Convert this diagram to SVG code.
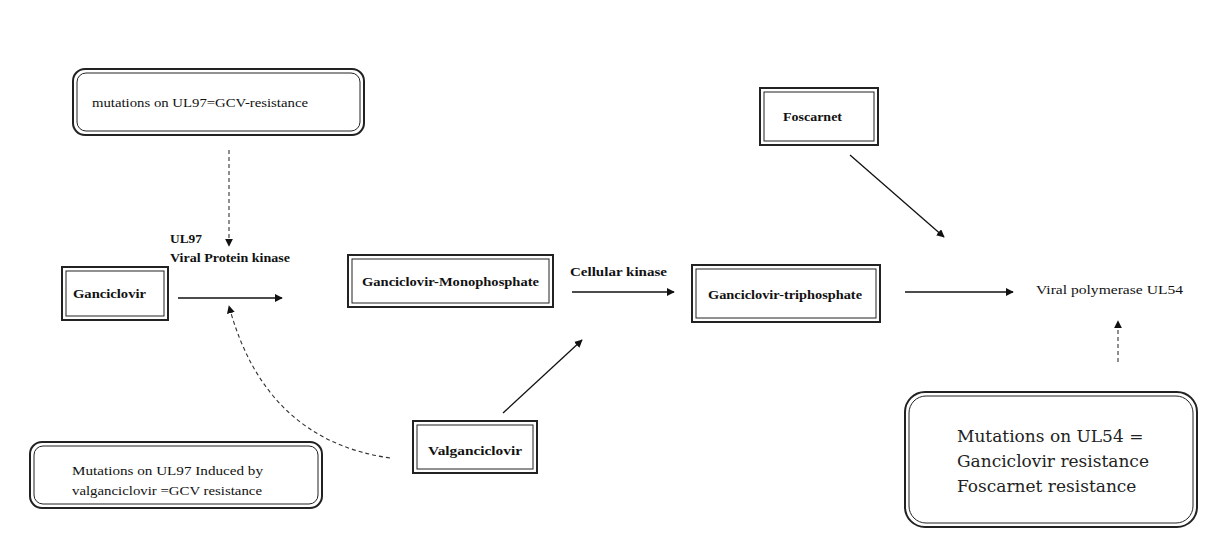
<svg xmlns="http://www.w3.org/2000/svg" width="1218" height="545" viewBox="0 0 1218 545">
<style>
.o{fill:#fff;stroke:#222;stroke-width:2}
.i{fill:none;stroke:#222;stroke-width:1}
.b{font-family:"Liberation Serif",serif;font-weight:bold;font-size:13px;fill:#111}
.r{font-family:"Liberation Serif",serif;font-size:13px;fill:#111}
.big{font-family:"DejaVu Serif","Liberation Serif",serif;font-size:17px;fill:#222}
.c{fill:none;stroke:#111;stroke-width:1.3}
.d{fill:none;stroke:#333;stroke-width:1.1;stroke-dasharray:4 3}
</style>
<defs>
<marker id="ah" viewBox="0 0 10 10" refX="9" refY="5" markerWidth="8" markerHeight="8" markerUnits="userSpaceOnUse" orient="auto"><path d="M0,0 L10,5 L0,10 z" fill="#111"/></marker>
</defs>
<rect width="1218" height="545" fill="#fff"/>
<g id="n-mut-ul97">
<rect class="o" x="73" y="69" width="291" height="66" rx="12"/>
<rect class="i" x="77" y="73" width="283" height="58" rx="9"/>
<text class="r" x="92" y="107" textLength="216" lengthAdjust="spacingAndGlyphs">mutations on UL97=GCV-resistance</text>
</g>
<g id="n-ganciclovir">
<rect class="o" x="62" y="267" width="106" height="53"/>
<rect class="i" x="66" y="271" width="98" height="45"/>
<text class="b" x="73" y="298" textLength="73" lengthAdjust="spacingAndGlyphs">Ganciclovir</text>
</g>
<g id="n-ul97-label">
<text class="b" x="170" y="243" textLength="32" lengthAdjust="spacingAndGlyphs">UL97</text>
<text class="b" x="170" y="262" textLength="120" lengthAdjust="spacingAndGlyphs">Viral Protein kinase</text>
</g>
<g id="n-gmp">
<rect class="o" x="348" y="255" width="205" height="52"/>
<rect class="i" x="352" y="259" width="197" height="44"/>
<text class="b" x="362" y="286" textLength="177" lengthAdjust="spacingAndGlyphs">Ganciclovir-Monophosphate</text>
</g>
<g id="n-cell-kinase">
<text class="b" x="570" y="276" textLength="97" lengthAdjust="spacingAndGlyphs">Cellular kinase</text>
</g>
<g id="n-gtp">
<rect class="o" x="692" y="265" width="188" height="57"/>
<rect class="i" x="696" y="269" width="180" height="49"/>
<text class="b" x="708" y="299" textLength="154" lengthAdjust="spacingAndGlyphs">Ganciclovir-triphosphate</text>
</g>
<g id="n-ul54">
<text class="r" x="1036" y="294" textLength="147" lengthAdjust="spacingAndGlyphs">Viral polymerase UL54</text>
</g>
<g id="n-foscarnet">
<rect class="o" x="760" y="88" width="118" height="57"/>
<rect class="i" x="764" y="92" width="110" height="49"/>
<text class="b" x="783" y="121" textLength="59" lengthAdjust="spacingAndGlyphs">Foscarnet</text>
</g>
<g id="n-valganciclovir">
<rect class="o" x="413" y="421" width="124" height="52"/>
<rect class="i" x="417" y="425" width="116" height="44"/>
<text class="b" x="428" y="455" textLength="94" lengthAdjust="spacingAndGlyphs">Valganciclovir</text>
</g>
<g id="n-mut-valg">
<rect class="o" x="30" y="442" width="292" height="66" rx="12"/>
<rect class="i" x="34" y="446" width="284" height="58" rx="9"/>
<text class="r" x="72" y="475" textLength="191" lengthAdjust="spacingAndGlyphs">Mutations on UL97 Induced by</text>
<text class="r" x="72" y="495" textLength="190" lengthAdjust="spacingAndGlyphs">valganciclovir =GCV resistance</text>
</g>
<g id="n-mut-ul54">
<rect class="o" x="905" y="392" width="292" height="135" rx="20"/>
<rect class="i" x="909" y="396" width="284" height="127" rx="17"/>
<text class="big" x="957" y="442">Mutations on UL54 =</text>
<text class="big" x="957" y="467">Ganciclovir resistance</text>
<text class="big" x="957" y="492">Foscarnet resistance</text>
</g>
<g id="connectors">
<line class="d" x1="229" y1="150" x2="229" y2="246" marker-end="url(#ah)"/>
<line class="c" x1="178" y1="298" x2="282" y2="298" marker-end="url(#ah)"/>
<path class="d" d="M390,458 Q265,440 229,306" marker-end="url(#ah)"/>
<line class="c" x1="572" y1="292" x2="674" y2="292" marker-end="url(#ah)"/>
<line class="c" x1="905" y1="292" x2="1013" y2="292" marker-end="url(#ah)"/>
<line class="d" x1="1118" y1="362" x2="1118" y2="321" marker-end="url(#ah)"/>
<line class="c" x1="850" y1="155" x2="944" y2="237" marker-end="url(#ah)"/>
<line class="c" x1="503" y1="413" x2="582" y2="340" marker-end="url(#ah)"/>
</g>
</svg>
